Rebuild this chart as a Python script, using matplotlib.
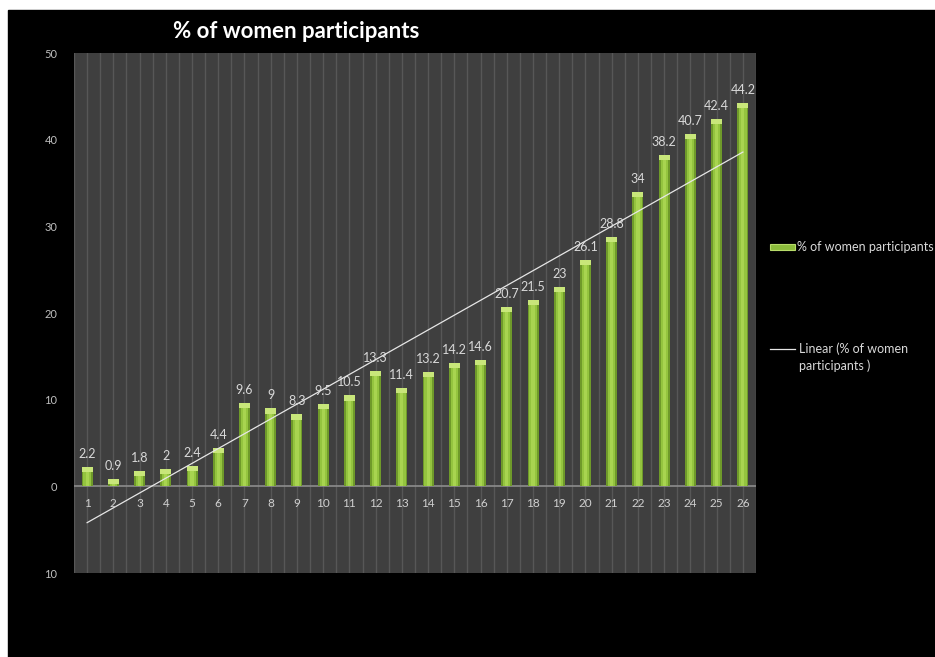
import numpy as np
import matplotlib
matplotlib.use("Agg")
import matplotlib.pyplot as plt
from matplotlib.patches import Rectangle
from matplotlib.lines import Line2D

plt.rcParams['font.family'] = ['Lato', 'DejaVu Sans']

# data
years = list(range(1, 27))
pct_women = [2.2, 0.9, 1.8, 2, 2.4, 4.4, 9.6, 9, 8.3, 9.5, 10.5, 13.3, 11.4,
             13.2, 14.2, 14.6, 20.7, 21.5, 23, 26.1, 28.8, 34, 38.2, 40.7, 42.4, 44.2]
value_labels = ['2.2', '0.9', '1.8', '2', '2.4', '4.4', '9.6', '9', '8.3', '9.5', '10.5',
                '13.3', '11.4', '13.2', '14.2', '14.6', '20.7', '21.5', '23', '26.1',
                '28.8', '34', '38.2', '40.7', '42.4', '44.2']
y_ticks = [-10, 0, 10, 20, 30, 40, 50]
y_tick_labels = ['10', '0', '10', '20', '30', '40', '50']

x = np.array(years)
y = np.array(pct_women)

fig = plt.figure(figsize=(9.35, 6.57), dpi=100, facecolor='white')
# black chart area (white strip on top and left as in the screenshot)
fig.patches.append(Rectangle((8 / 935, 0), 1, (657 - 10) / 657,
                             transform=fig.transFigure, color='black', zorder=-1))

ax = fig.add_axes([74 / 935, 1 - 573 / 657, (756 - 74) / 935, (573 - 53) / 657])
ax.set_zorder(2)
ax.set_facecolor('#3f3f3f')

# vertical stripes
for gx in np.arange(0.5, 26.51, 0.5):
    ax.axvline(gx, color='#575757', lw=1, zorder=1)

ax.axhline(0, color='#8c8c8c', lw=1.2, zorder=2)

# bars with a simple highlight to mimic the gradient
ax.bar(x, y, width=0.42, color='#6f9a2a', zorder=3)
ax.bar(x, y, width=0.28, color='#94c43f', zorder=4)
ax.bar(x, y, width=0.12, color='#a8d450', zorder=4)
cap = np.minimum(y, 0.6)
ax.bar(x, cap, bottom=y - cap, width=0.42, color='#c8e67a', zorder=5)

for xi, yi, lab in zip(x, y, value_labels):
    ax.annotate(lab, (xi, yi), xytext=(0, 5), textcoords='offset points',
                ha='center', va='bottom', fontsize=9, color='#d9d9d9', zorder=6)

# linear trendline
k, b = np.polyfit(x, y, 1)
ax.plot(x, k * x + b, color='#e6e6e6', lw=0.9, zorder=6)

# category labels sit inside the plot below the zero line
for xi in years:
    ax.text(xi, -2, str(xi), ha='center', va='center', fontsize=8.5,
            color='#d0d0d0', zorder=6)

ax.set_xlim(0.5, 26.5)
ax.set_ylim(-10, 50)
ax.set_xticks([])
ax.set_yticks(y_ticks)
ax.set_yticklabels(y_tick_labels, fontsize=8, color='#bfbfbf')
ax.tick_params(axis='y', length=0, pad=12)
for s in ax.spines.values():
    s.set_visible(False)

fig.text(296 / 935, 1 - 32 / 657, '% of women participants', ha='center', va='center',
         fontsize=16, fontweight='bold', color='white')

# legend
fig.patches.append(Rectangle((770 / 935, 1 - 250 / 657), 25 / 935, 6 / 657,
                             transform=fig.transFigure, facecolor='#8cbc3c',
                             edgecolor='#b8dc6a', lw=0.8))
fig.text(797 / 935, 1 - 247 / 657, '% of women participants', ha='left', va='center',
         fontsize=9, color='#d9d9d9')
fig.lines.append(Line2D([770 / 935, 795 / 935], [1 - 349 / 657, 1 - 349 / 657],
                        transform=fig.transFigure, color='#e6e6e6', lw=0.9))
fig.text(799 / 935, 1 - 349 / 657, 'Linear (% of women', ha='left', va='center',
         fontsize=9, color='#d9d9d9')
fig.text(799 / 935, 1 - 366 / 657, 'participants )', ha='left', va='center',
         fontsize=9, color='#d9d9d9')

fig.savefig('out.png', dpi=100, facecolor=fig.get_facecolor())
